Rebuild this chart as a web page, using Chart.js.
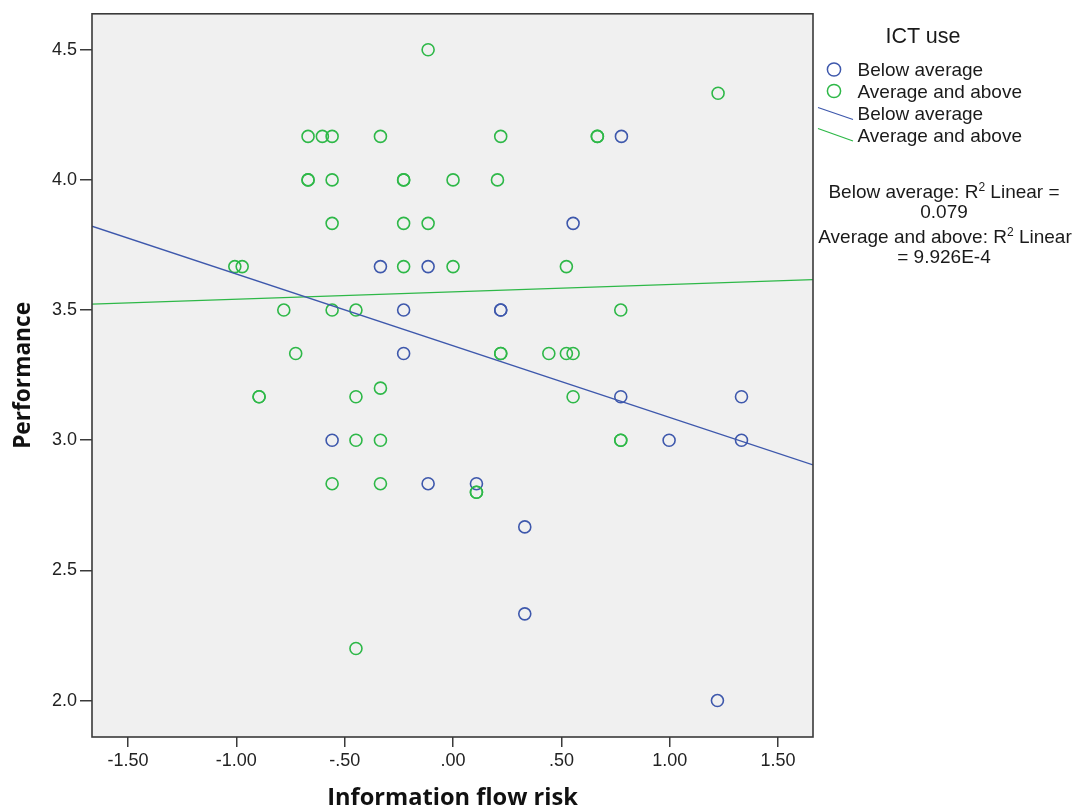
<!DOCTYPE html>
<html>
<head>
<meta charset="utf-8">
<script src="https://cdn.jsdelivr.net/npm/chart.js@4/dist/chart.umd.min.js"></script>
<style>
html,body{margin:0;padding:0;background:#ffffff;}
#wrap{position:relative;width:1080px;height:808px;overflow:hidden;}
#c{position:absolute;left:0;top:0;}
#leg{position:absolute;left:0;top:0;pointer-events:none;}
#leg text{font-family:"Liberation Sans",Arial,sans-serif;fill:#1a1a1a;}
</style>
</head>
<body>
<div id="wrap">
<canvas id="c" width="1080" height="808"></canvas>
<svg id="leg" width="1080" height="808" xmlns="http://www.w3.org/2000/svg">
  <text x="923" y="43" font-size="21.5" text-anchor="middle">ICT use</text>
  <circle cx="834" cy="69.5" r="6.6" fill="none" stroke="#3E58AC" stroke-width="1.5"/>
  <text x="857.5" y="76" font-size="19">Below average</text>
  <circle cx="834" cy="91" r="6.6" fill="none" stroke="#2EB848" stroke-width="1.5"/>
  <text x="857.5" y="97.5" font-size="19">Average and above</text>
  <line x1="818" y1="107.5" x2="853" y2="119.5" stroke="#3E58AC" stroke-width="1.3"/>
  <text x="857.5" y="120" font-size="19">Below average</text>
  <line x1="818" y1="128.5" x2="853" y2="141" stroke="#2EB848" stroke-width="1.3"/>
  <text x="857.5" y="141.5" font-size="19">Average and above</text>
  <text x="944" y="197.5" font-size="19" text-anchor="middle">Below average: R<tspan font-size="12" dy="-7">2</tspan><tspan dy="7"> Linear =</tspan></text>
  <text x="944" y="217.5" font-size="19" text-anchor="middle">0.079</text>
  <text x="945" y="242.5" font-size="19" text-anchor="middle">Average and above: R<tspan font-size="12" dy="-7">2</tspan><tspan dy="7"> Linear</tspan></text>
  <text x="944" y="262.5" font-size="19" text-anchor="middle">= 9.926E-4</text>
</svg>
</div>
<script>
// ---- data ----
const blueX = [0.777, 0.554, -0.335, -0.115, -0.228, 0.220, 0.220, -0.228, 0.774, 1.331, -0.558, 0.997, 1.331, -0.115, 0.108, 0.331, 0.331, 1.220];
const blueY = [4.167, 3.833, 3.667, 3.667, 3.5, 3.5, 3.5, 3.333, 3.167, 3.167, 3.0, 3.0, 3.0, 2.833, 2.833, 2.667, 2.333, 2.0];

const greenX = [-0.115, 1.223,
  -0.669, -0.603, -0.558, -0.335, 0.220, 0.666, 0.666,
  -0.669, -0.669, -0.558, -0.228, -0.228, 0.000, 0.205,
  -0.558, -0.228, -0.115,
  -1.007, -0.973, -0.228, 0.000, 0.523,
  -0.781, -0.558, -0.448, 0.774,
  -0.726, 0.220, 0.220, 0.442, 0.523, 0.554,
  -0.335,
  -0.895, -0.895, -0.448, 0.554,
  -0.448, -0.335, 0.774, 0.774,
  -0.558, -0.335,
  0.108, 0.108,
  -0.448];
const greenY = [4.5, 4.333,
  4.167, 4.167, 4.167, 4.167, 4.167, 4.167, 4.167,
  4.0, 4.0, 4.0, 4.0, 4.0, 4.0, 4.0,
  3.833, 3.833, 3.833,
  3.667, 3.667, 3.667, 3.667, 3.667,
  3.5, 3.5, 3.5, 3.5,
  3.333, 3.333, 3.333, 3.333, 3.333, 3.333,
  3.2,
  3.167, 3.167, 3.167, 3.167,
  3.0, 3.0, 3.0, 3.0,
  2.833, 2.833,
  2.8, 2.8,
  2.2];

// fit lines (end points at the axis limits)
const fitX = [-1.666, 1.661];
const blueFitY = [3.822, 2.905];
const greenFitY = [3.523, 3.617];

const xTickVals = [-1.5, -1.0, -0.5, 0.0, 0.5, 1.0, 1.5];
const xTickLabels = ['-1.50', '-1.00', '-.50', '.00', '.50', '1.00', '1.50'];
const yTickVals = [2.0, 2.5, 3.0, 3.5, 4.0, 4.5];
const yTickLabels = ['2.0', '2.5', '3.0', '3.5', '4.0', '4.5'];

const xTitle = 'Information flow risk';
const yTitle = 'Performance';

// ---- styles ----
const BLUE = '#3E58AC';
const GREEN = '#2EB848';
const AXIS = '#3a3a3a';
const tickFamily = '"Liberation Sans", Arial, sans-serif';
const titleFamily = '"Open Sans", "Liberation Sans", sans-serif';

function pts(xs, ys) { return xs.map((x, i) => ({ x: x, y: ys[i] })); }

// fit title sizes to reference widths
const mctx = document.createElement('canvas').getContext('2d');
mctx.font = 'bold 100px ' + titleFamily;
const xTitleSize = 100 * 251 / mctx.measureText(xTitle).width;
const yTitleSize = 100 * 147 / mctx.measureText(yTitle).width;

const bgPlugin = {
  id: 'bg',
  beforeDraw(chart) {
    const { ctx, chartArea: a } = chart;
    ctx.save();
    ctx.fillStyle = '#ffffff';
    ctx.fillRect(0, 0, chart.width, chart.height);
    ctx.fillStyle = '#F0F0F0';
    ctx.fillRect(a.left, a.top, a.right - a.left, a.bottom - a.top);
    ctx.restore();
  },
  afterDraw(chart) {
    const { ctx, chartArea: a } = chart;
    ctx.save();
    ctx.strokeStyle = AXIS;
    ctx.lineWidth = 1.6;
    ctx.strokeRect(a.left, a.top, a.right - a.left, a.bottom - a.top);
    ctx.restore();
  }
};

new Chart(document.getElementById('c').getContext('2d'), {
  type: 'scatter',
  data: {
    datasets: [
      { label: 'Below average fit', data: pts(fitX, blueFitY), showLine: true, pointRadius: 0,
        borderColor: BLUE, borderWidth: 1.3, fill: false, order: 0 },
      { label: 'Average and above fit', data: pts(fitX, greenFitY), showLine: true, pointRadius: 0,
        borderColor: GREEN, borderWidth: 1.3, fill: false, order: 0 },
      { label: 'Average and above', data: pts(greenX, greenY), showLine: false,
        pointRadius: 6, pointBorderWidth: 1.6, borderColor: GREEN, pointBorderColor: GREEN,
        backgroundColor: 'rgba(0,0,0,0)', pointBackgroundColor: 'rgba(0,0,0,0)', order: 1 },
      { label: 'Below average', data: pts(blueX, blueY), showLine: false,
        pointRadius: 6, pointBorderWidth: 1.6, borderColor: BLUE, pointBorderColor: BLUE,
        backgroundColor: 'rgba(0,0,0,0)', pointBackgroundColor: 'rgba(0,0,0,0)', order: 2 }
    ]
  },
  options: {
    responsive: false,
    animation: false,
    events: [],
    layout: { padding: { left: 0, right: 267, top: 13, bottom: 0 } },
    plugins: { legend: { display: false }, tooltip: { enabled: false } },
    scales: {
      x: {
        type: 'linear', min: -1.666, max: 1.661,
        afterBuildTicks(s) { s.ticks = xTickVals.map(v => ({ value: v })); },
        afterFit(s) { s.height = 71; },
        border: { display: false },
        grid: { drawOnChartArea: false, drawTicks: true, tickLength: 10, color: AXIS, tickColor: AXIS, lineWidth: 1.5 },
        ticks: { autoSkip: false, maxRotation: 0, padding: 3, color: '#222',
          font: { family: tickFamily, size: 18 },
          callback: (v) => { const i = xTickVals.findIndex(t => Math.abs(t - v) < 1e-9); return i >= 0 ? xTickLabels[i] : ''; } },
        title: { display: true, text: xTitle, color: '#111',
          font: { family: titleFamily, size: xTitleSize, weight: 'bold', lineHeight: 1 },
          padding: { top: 0, bottom: 10.2 - xTitleSize / 2 } }
      },
      y: {
        type: 'linear', min: 1.860, max: 4.638,
        afterBuildTicks(s) { s.ticks = yTickVals.map(v => ({ value: v })); },
        afterFit(s) { s.width = 92; },
        border: { display: false },
        grid: { drawOnChartArea: false, drawTicks: true, tickLength: 12, color: AXIS, tickColor: AXIS, lineWidth: 1.5 },
        ticks: { autoSkip: false, padding: 3, color: '#222',
          font: { family: tickFamily, size: 18 },
          callback: (v) => { const i = yTickVals.findIndex(t => Math.abs(t - v) < 1e-9); return i >= 0 ? yTickLabels[i] : ''; } },
        title: { display: true, text: yTitle, color: '#111',
          font: { family: titleFamily, size: yTitleSize, weight: 'bold', lineHeight: 1 },
          padding: { top: 23.4 - yTitleSize / 2, bottom: 0 } }
      }
    }
  },
  plugins: [bgPlugin]
});
</script>
</body>
</html>
